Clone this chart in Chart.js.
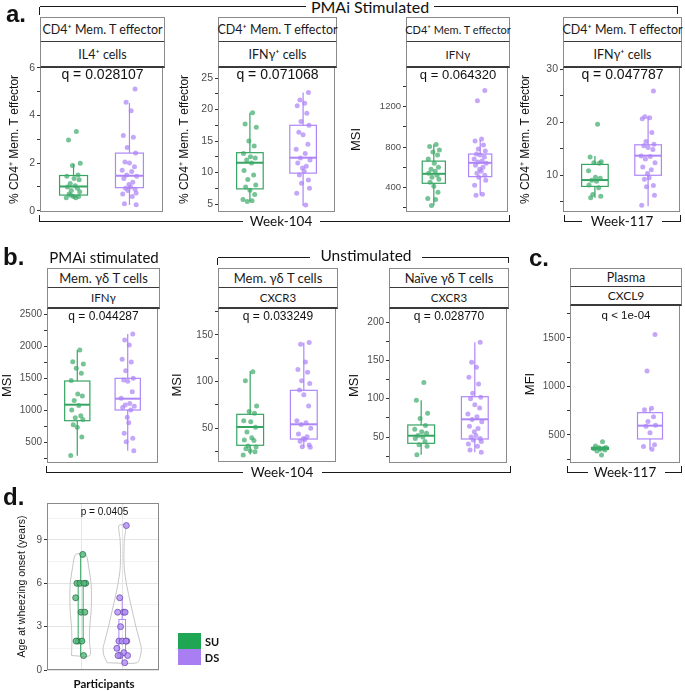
<!DOCTYPE html>
<html>
<head>
<meta charset="utf-8">
<script src="https://cdn.jsdelivr.net/npm/chart.js@4.4.1/dist/chart.umd.min.js"></script>
<style>
    body { margin: 0; width: 685px; height: 691px; position: relative; overflow: hidden; background: #fff; font-family: Lato, 'Liberation Sans', sans-serif; color: #111; }
    canvas { position: absolute; }
    .txt { position: absolute; transform: translate(-50%, -50%); white-space: nowrap; line-height: 1; }
    .strip { position: absolute; box-sizing: border-box; background: #fff; border-left: 1px solid #8a8a8a; border-right: 1px solid #8a8a8a; border-bottom: 2px solid #3a3a3a; display: flex; align-items: center; justify-content: center; white-space: nowrap; color: #1a1a1a; }
    .hl { position: absolute; height: 0; border-top: 1.6px solid #1a1a1a; }
    .vl { position: absolute; width: 0; border-left: 1.6px solid #1a1a1a; }
    .letter { position: absolute; font: bold 24px 'Liberation Sans', sans-serif; line-height: 24px; }
    .key { position: absolute; width: 23px; height: 16px; }
</style>
</head>
<body>
<script>
// values, SU = green, DS = purple
// box stats are [lower whisker, q1, median, q3, upper whisker]
const A1_SU = [3.33, 2.97, 1.99, 1.9, 1.5, 1.45, 1.35, 1.3, 1.15, 1.05, 1.0, 0.95, 0.85, 0.8, 0.7, 0.6, 0.6, 0.55, 0.55, 0.65];
const A1_DS = [5.11, 4.55, 4.2, 3.16, 3.08, 2.65, 2.42, 2.05, 2.0, 1.85, 1.7, 1.65, 1.5, 1.45, 1.35, 1.2, 1.1, 1.0, 0.95, 0.9, 0.85, 0.75, 0.7, 0.6, 0.3, 0.25];
const A1_BOX_SU = [0.55, 0.66, 1.02, 1.48, 1.97];
const A1_BOX_DS = [0.24, 0.97, 1.47, 2.42, 4.52];
const A1_TICKS = [0, 1, 2, 3, 4, 5, 6];
const A1_LABELS = [0, 2, 4, 6];

const A2_SU = [19.5, 17.7, 17.2, 15.0, 14.2, 13.0, 12.5, 12.3, 12.0, 11.5, 10.3, 9.6, 8.9, 8.0, 7.7, 7.2, 6.5, 5.7, 5.5, 5.4];
const A2_DS = [22.7, 21.5, 21.0, 20.6, 19.4, 18.1, 17.5, 16.4, 16.0, 14.5, 13.7, 13.0, 12.3, 12.0, 11.5, 11.0, 10.7, 10.2, 9.6, 8.8, 8.3, 7.5, 6.7, 4.85];
const A2_BOX_SU = [5.4, 7.4, 11.55, 13.15, 19.5];
const A2_BOX_DS = [4.7, 9.9, 12.35, 17.5, 22.7];
const A2_TICKS = [5, 7.5, 10, 12.5, 15, 17.5, 20, 22.5, 25];
const A2_LABELS = [5, 10, 15, 20, 25];

const A3_SU = [826, 806, 770, 750, 720, 680, 640, 600, 580, 560, 540, 520, 500, 480, 450, 410, 350, 290, 280, 220];
const A3_DS = [1360, 1260, 880, 860, 820, 780, 760, 730, 720, 700, 680, 660, 650, 640, 620, 600, 580, 560, 540, 520, 500, 470, 420, 330, 320];
const A3_BOX_SU = [220, 440, 534, 660, 826];
const A3_BOX_DS = [320, 506, 643, 730, 870];
const A3_TICKS = [200, 400, 600, 800, 1000, 1200, 1400];
const A3_LABELS = [400, 800, 1200];

const A4_SU = [19.6, 13.4, 12.5, 12.3, 12.2, 10.8, 9.6, 9.4, 9.0, 8.8, 8.1, 7.6, 6.3, 6.0, 5.7];
const A4_DS = [25.85, 21.0, 20.8, 20.6, 18.0, 16.3, 15.8, 15.5, 15.2, 14.8, 13.6, 13.5, 13.0, 12.3, 11.5, 11.0, 10.3, 9.5, 9.2, 8.0, 7.8, 6.2, 4.3];
const A4_BOX_SU = [5.7, 7.85, 9.05, 12.0, 13.6];
const A4_BOX_DS = [4.1, 9.95, 13.65, 15.7, 21.0];
const A4_TICKS = [5, 10, 15, 20, 25, 30];
const A4_LABELS = [10, 20, 30];

const B1_SU = [1937, 1755, 1720, 1651, 1573, 1460, 1250, 1220, 1150, 1070, 1000, 910, 880, 850, 770, 730, 580, 290];
const B1_DS = [2187, 2094, 2016, 1792, 1750, 1614, 1495, 1470, 1450, 1286, 1182, 1100, 1080, 1060, 1040, 1000, 886, 800, 636, 560, 505, 364];
const B1_BOX_SU = [286, 833, 1083, 1453, 1937];
const B1_BOX_DS = [364, 1000, 1177, 1495, 2187];
const B1_TICKS = [250, 500, 750, 1000, 1250, 1500, 1750, 2000, 2250, 2500];
const B1_LABELS = [500, 1000, 1500, 2000, 2500];

const B2_SU = [110.6, 101, 74, 68, 66, 58, 57, 51, 46, 40, 37.5, 37, 31, 30, 28, 26, 25, 21.5];
const B2_DS = [142, 140, 121, 113, 110, 101, 98, 91, 86, 74, 58, 56, 54, 50, 44, 41, 39, 38, 36, 32, 30.3, 29.7];
const B2_BOX_SU = [22, 31.8, 51.4, 65, 111];
const B2_BOX_DS = [29.7, 38.5, 54.3, 90.7, 142];
const B2_TICKS = [25, 50, 75, 100, 125, 150, 175];
const B2_LABELS = [50, 100, 150];

const B3_SU = [121, 98, 81, 74, 65, 60, 57, 55, 52, 50, 48, 44, 40, 38, 27];
const B3_DS = [173.6, 147.5, 141, 128, 119, 107, 102, 100, 92, 88, 80, 76.5, 73, 70, 64, 61, 57, 52, 50, 48, 46, 44, 41, 38, 33, 30];
const B3_BOX_SU = [27, 41.8, 51.7, 65.7, 98];
const B3_BOX_DS = [30, 47.4, 73.1, 102.6, 173.6];
const B3_TICKS = [25, 50, 75, 100, 125, 150, 175, 200];
const B3_LABELS = [50, 100, 150, 200];

const C_SU = [431, 385, 372, 368, 363, 358, 352, 345, 335, 294];
const C_DS = [1537, 1159, 775, 760, 689, 640, 600, 590, 523, 400, 380, 352];
const C_BOX_SU = [335, 352, 363, 372, 385];
const C_BOX_DS = [352, 459, 596, 730, 775];
const C_TICKS = [250, 500, 750, 1000, 1250, 1500, 1750];
const C_LABELS = [500, 1000, 1500];

const D_SU = [8, 6, 6, 6, 6, 5, 4, 4, 2, 2, 2, 1];
const D_DS = [10, 5, 4, 4, 4, 3, 2, 2, 2, 2, 1.5, 1.2, 1, 1, 1, 0.5];
const D_BOX_SU = [1, 2, 4, 6, 8];
const D_BOX_DS = [0.5, 1, 2, 3.5, 5];
const D_VIOLIN_Y_SU = [1, 2, 3, 4, 5, 6, 7, 8];
const D_VIOLIN_W_SU = [0.22, 0.21, 0.22, 0.25, 0.26, 0.25, 0.2, 0.12];
const D_VIOLIN_Y_DS = [0.5, 1, 1.5, 2, 3, 4, 5, 6, 7, 8, 9, 10];
const D_VIOLIN_W_DS = [0.36, 0.44, 0.46, 0.42, 0.33, 0.25, 0.17, 0.1, 0.05, 0.04, 0.05, 0.08];
const D_TICKS = [0, 1.5, 3, 4.5, 6, 7.5, 9, 10.5];
const D_LABELS = [0, 3, 6, 9];

// horizontal jitter offsets as seen in the dot clouds
const JITTER = [0.05, -0.09, 0.12, -0.02, 0.08, -0.12, 0.01, 0.1, -0.06, 0.03, -0.11, 0.07, -0.04, 0.11, -0.08, 0.0, 0.09, -0.13, 0.04, -0.05, 0.13, -0.1, 0.06, -0.01, 0.02, -0.07, 0.1, -0.03, 0.12, -0.12];

const SU_LINE = '#36a562';
const SU_POINT = 'rgba(60, 170, 105, 0.7)';
const DS_LINE = '#ae86f7';
const DS_POINT = 'rgba(172, 130, 247, 0.7)';
const FRAME = '#8a8a8a';

const CD4_TITLE = '% CD4⁺ Mem. T effector';

const PANELS = [
    { frameL: 40, frameR: 165, plotT: 67, plotB: 212, titleX: 14, title: CD4_TITLE, titleSize: 12, tickSize: 10.5,
      yMin: -0.05, yMax: 6.03, ticks: A1_TICKS, labels: A1_LABELS, su: A1_SU, ds: A1_DS, boxSu: A1_BOX_SU, boxDs: A1_BOX_DS,
      strips: [[17, 42, 'CD4⁺ Mem. T effector', 12.5], [42, 67, 'IL4⁺ cells', 12.5]], q: 'q = 0.028107', qY: 74, qSize: 14 },
    { frameL: 218, frameR: 337, plotT: 67, plotB: 212, titleX: 184, title: CD4_TITLE, titleSize: 12, tickSize: 10.5,
      yMin: 3.73, yMax: 26.75, ticks: A2_TICKS, labels: A2_LABELS, su: A2_SU, ds: A2_DS, boxSu: A2_BOX_SU, boxDs: A2_BOX_DS,
      strips: [[17, 42, 'CD4⁺ Mem. T effector', 12.5], [42, 67, 'IFNγ⁺ cells', 12.5]], q: 'q = 0.071068', qY: 74, qSize: 14 },
    { frameL: 406, frameR: 510, plotT: 67, plotB: 212, titleX: 357, title: 'MSI', titleSize: 13, tickSize: 9.5,
      yMin: 155, yMax: 1594, ticks: A3_TICKS, labels: A3_LABELS, su: A3_SU, ds: A3_DS, boxSu: A3_BOX_SU, boxDs: A3_BOX_DS,
      strips: [[17, 42, 'CD4⁺ Mem. T effector', 11], [42, 67, 'IFNγ', 11.5]], q: 'q = 0.064320', qY: 74, qSize: 13 },
    { frameL: 563, frameR: 682, plotT: 67, plotB: 212, titleX: 525, title: CD4_TITLE, titleSize: 12, tickSize: 10.5,
      yMin: 3.02, yMax: 30.38, ticks: A4_TICKS, labels: A4_LABELS, su: A4_SU, ds: A4_DS, boxSu: A4_BOX_SU, boxDs: A4_BOX_DS,
      strips: [[17, 42, 'CD4⁺ Mem. T effector', 12.5], [42, 67, 'IFNγ⁺ cells', 12.5]], q: 'q = 0.047787', qY: 74, qSize: 14 },
    { frameL: 47, frameR: 160, plotT: 308, plotB: 463, titleX: 8, title: 'MSI', titleSize: 13, tickSize: 10,
      yMin: 172, yMax: 2594, ticks: B1_TICKS, labels: B1_LABELS, su: B1_SU, ds: B1_DS, boxSu: B1_BOX_SU, boxDs: B1_BOX_DS,
      strips: [[268, 288, 'Mem. γδ T cells', 13], [288, 308, 'IFNγ', 11.5]], q: 'q = 0.044287', qY: 316, qSize: 12 },
    { frameL: 218, frameR: 338, plotT: 308, plotB: 462, titleX: 178, title: 'MSI', titleSize: 13, tickSize: 10,
      yMin: 13.9, yMax: 178.9, ticks: B2_TICKS, labels: B2_LABELS, su: B2_SU, ds: B2_DS, boxSu: B2_BOX_SU, boxDs: B2_BOX_DS,
      strips: [[268, 288, 'Mem. γδ T cells', 13], [288, 308, 'CXCR3', 11.5]], q: 'q = 0.033249', qY: 316, qSize: 12 },
    { frameL: 389, frameR: 509, plotT: 308, plotB: 463, titleX: 355, title: 'MSI', titleSize: 13, tickSize: 10,
      yMin: 16.1, yMax: 218.3, ticks: B3_TICKS, labels: B3_LABELS, su: B3_SU, ds: B3_DS, boxSu: B3_BOX_SU, boxDs: B3_BOX_DS,
      strips: [[268, 288, 'Naïve γδ T cells', 13], [288, 308, 'CXCR3', 11.5]], q: 'q = 0.028770', qY: 316, qSize: 12 },
    { frameL: 570, frameR: 682, plotT: 305, plotB: 463, titleX: 531, title: 'MFI', titleSize: 13, tickSize: 10,
      yMin: 211, yMax: 1840, ticks: C_TICKS, labels: C_LABELS, su: C_SU, ds: C_DS, boxSu: C_BOX_SU, boxDs: C_BOX_DS, halfSu: 0.17,
      strips: [[268, 287, 'Plasma', 12.5], [287, 305, 'CXCL9', 12]], q: 'q < 1e-04', qY: 316, qSize: 11.5 },
    { frameL: 47, frameR: 162, plotT: 503, plotB: 670, titleX: 22, title: 'Age at wheezing onset (years)', titleSize: 10.5, tickSize: 10,
      yMin: 0, yMax: 11.56, xMin: 0.19, xMax: 2.89, ticks: D_TICKS, labels: D_LABELS, su: D_SU, ds: D_DS, boxSu: D_BOX_SU, boxDs: D_BOX_DS,
      halfSu: 0.06, halfDs: 0.08, violin: true, strips: [], q: 'p = 0.0405', qY: 512, qSize: 10 }
];

function addEl(cls, style, text) {
    const el = document.createElement('div');
    el.className = cls;
    Object.assign(el.style, style);
    if (text !== undefined) {
        el.textContent = text;
    }
    document.body.appendChild(el);
    return el;
}

function addText(text, x, y, size, extra) {
    return addEl('txt', Object.assign({ left: `${x}px`, top: `${y}px`, fontSize: `${size}px` }, extra || {}), text);
}

function hLine(x1, x2, y) {
    addEl('hl', { left: `${x1}px`, top: `${y - 0.8}px`, width: `${x2 - x1}px` });
}

function vLine(x, y1, y2) {
    addEl('vl', { left: `${x - 0.8}px`, top: `${y1}px`, height: `${y2 - y1}px` });
}

function jitterPoints(values, center, shift) {
    return values.map((v, i) => ({ x: center + JITTER[(i + shift) % JITTER.length], y: v }));
}

function violinOutline(levels, widths, center) {
    const left = levels.map((y, i) => ({ x: center - widths[i], y }));
    const right = levels.map((y, i) => ({ x: center + widths[i], y })).reverse();
    return [...left, ...right, left[0]];
}

function drawBox(chart, center, stats, half, color, lineWidth, medianWidth) {
    const { ctx, scales } = chart;
    const xs = scales.x;
    const ys = scales.y;
    const [lo, q1, med, q3, hi] = stats.map(v => ys.getPixelForValue(v));
    const xl = xs.getPixelForValue(center - half);
    const xr = xs.getPixelForValue(center + half);
    const xc = xs.getPixelForValue(center);
    ctx.save();
    ctx.strokeStyle = color;
    ctx.lineWidth = lineWidth;
    ctx.beginPath();
    ctx.moveTo(xc, hi);
    ctx.lineTo(xc, q3);
    ctx.moveTo(xc, q1);
    ctx.lineTo(xc, lo);
    ctx.stroke();
    ctx.strokeRect(xl, q3, xr - xl, q1 - q3);
    ctx.lineWidth = medianWidth;
    ctx.beginPath();
    ctx.moveTo(xl, med);
    ctx.lineTo(xr, med);
    ctx.stroke();
    ctx.restore();
}

function panelPlugin(p) {
    return {
        id: 'panel',
        beforeDatasetsDraw(chart) {
            const { ctx, chartArea, scales } = chart;
            if (p.violin) {
                ctx.save();
                ctx.strokeStyle = '#e6e6e6';
                ctx.lineWidth = 1;
                [1, 2].forEach(v => {
                    const x = Math.round(scales.x.getPixelForValue(v)) + 0.5;
                    ctx.beginPath();
                    ctx.moveTo(x, chartArea.top);
                    ctx.lineTo(x, chartArea.bottom);
                    ctx.stroke();
                });
                ctx.restore();
            }
            const thin = p.violin ? 1 : 1.2;
            const med = p.violin ? 1.3 : 2;
            drawBox(chart, 1, p.boxSu, p.halfSu || 0.25, SU_LINE, thin, med);
            drawBox(chart, 2, p.boxDs, p.halfDs || 0.25, DS_LINE, thin, med);
        },
        afterDraw(chart) {
            const { ctx, chartArea } = chart;
            ctx.save();
            ctx.strokeStyle = FRAME;
            ctx.lineWidth = 1;
            ctx.strokeRect(Math.round(chartArea.left) + 0.5, Math.round(chartArea.top) + 0.5,
                Math.round(chartArea.width) - 1, Math.round(chartArea.height) - 1);
            ctx.restore();
        }
    };
}

function renderPanel(p) {
    const left = Math.round(p.titleX - p.titleSize * 0.6);
    const axisW = p.frameL - left;
    const width = axisW + (p.frameR - p.frameL) + 2;
    const height = p.plotB - p.plotT + 20;

    const canvas = document.createElement('canvas');
    canvas.width = width;
    canvas.height = height;
    Object.assign(canvas.style, { left: `${left}px`, top: `${p.plotT - 10}px`, width: `${width}px`, height: `${height}px` });
    document.body.appendChild(canvas);

    const isMajor = value => p.labels.includes(value);

    const datasets = [
        {
            data: jitterPoints(p.su, 1, 0),
            backgroundColor: p.violin ? 'rgba(80, 185, 120, 0.8)' : SU_POINT,
            borderColor: '#2c7048',
            borderWidth: p.violin ? 0.8 : 0,
            pointRadius: p.violin ? 3 : 2.5
        },
        {
            data: jitterPoints(p.ds, 2, 7),
            backgroundColor: p.violin ? 'rgba(178, 140, 246, 0.8)' : DS_POINT,
            borderColor: '#6f50b0',
            borderWidth: p.violin ? 0.8 : 0,
            pointRadius: p.violin ? 3 : 2.5
        }
    ];

    if (p.violin) {
        datasets.push(
            { data: violinOutline(D_VIOLIN_Y_SU, D_VIOLIN_W_SU, 1), showLine: true, pointRadius: 0, borderColor: '#c4c4c4', borderWidth: 1, tension: 0.25 },
            { data: violinOutline(D_VIOLIN_Y_DS, D_VIOLIN_W_DS, 2), showLine: true, pointRadius: 0, borderColor: '#c4c4c4', borderWidth: 1, tension: 0.25 }
        );
    }

    return new Chart(canvas, {
        type: 'scatter',
        data: { datasets },
        options: {
            responsive: false,
            animation: false,
            layout: { padding: { left: 0, right: 2, top: 10, bottom: 10 } },
            plugins: {
                legend: { display: false },
                tooltip: { enabled: false }
            },
            scales: {
                x: { type: 'linear', display: false, min: p.xMin || 0.4, max: p.xMax || 2.6 },
                y: {
                    type: 'linear',
                    min: p.yMin,
                    max: p.yMax,
                    afterBuildTicks(scale) {
                        scale.ticks = p.ticks.map(value => ({ value }));
                    },
                    afterFit(scale) {
                        scale.width = axisW;
                    },
                    ticks: {
                        autoSkip: false,
                        padding: 2,
                        color: '#4d4d4d',
                        font: { family: 'Liberation Sans', size: p.tickSize },
                        callback(value) {
                            return isMajor(value) ? String(value) : '';
                        }
                    },
                    grid: {
                        drawOnChartArea: !!p.violin,
                        drawTicks: true,
                        tickLength: 3,
                        color(context) {
                            return isMajor(context.tick.value) ? '#e4e4e4' : '#f2f2f2';
                        },
                        tickColor(context) {
                            return (!p.violin || isMajor(context.tick.value)) ? '#333333' : 'rgba(0,0,0,0)';
                        }
                    },
                    border: { display: false },
                    title: {
                        display: true,
                        text: p.title,
                        color: '#111111',
                        padding: { top: 0, bottom: 0 },
                        font: { family: 'Liberation Sans', size: p.titleSize }
                    }
                }
            }
        },
        plugins: [panelPlugin(p)]
    });
}

function renderStrips(p) {
    p.strips.forEach(([top, bottom, text, size], index) => {
        const style = {
            left: `${p.frameL}px`,
            top: `${top}px`,
            width: `${p.frameR - p.frameL}px`,
            height: `${bottom - top + 1}px`,
            fontSize: `${size}px`
        };
        if (index === 0) {
            style.borderTop = `1px solid ${FRAME}`;
        }
        addEl('strip', style, text);
    });
    addText(p.q, (p.frameL + p.frameR) / 2, p.qY, p.qSize, { fontFamily: 'Liberation Sans' });
}

PANELS.forEach(p => {
    renderPanel(p);
    renderStrips(p);
});

// panel letters
addEl('letter', { left: '6px', top: '2px' }, 'a.');
addEl('letter', { left: '3px', top: '245px' }, 'b.');
addEl('letter', { left: '529px', top: '246px' }, 'c.');
addEl('letter', { left: '3px', top: '485px' }, 'd.');

// row a brackets
addText('PMAi Stimulated', 370, 7, 16);
hLine(40, 306, 7); hLine(434, 678, 7);
vLine(40, 7, 15); vLine(678, 7, 14);
addText('Week-104', 281, 222, 13.5);
hLine(40, 243, 222); hLine(320, 510, 222);
vLine(40, 215, 222); vLine(510, 215, 222);
addText('Week-117', 622, 222, 13.5);
hLine(565, 582, 222); hLine(662, 681, 222);
vLine(565, 215, 222); vLine(681, 215, 222);

// row b/c brackets
addText('PMAi stimulated', 104, 257, 15);
addText('Unstimulated', 366, 256, 15.5);
hLine(218, 310, 258); hLine(422, 509, 258);
vLine(218, 258, 265); vLine(509, 258, 263);
addText('Week-104', 282, 473, 13.5);
hLine(47, 243, 473); hLine(322, 511, 473);
vLine(47, 466, 473); vLine(511, 466, 473);
addText('Week-117', 625, 473, 13.5);
hLine(568, 588, 473); hLine(665, 682, 473);
vLine(568, 466, 473); vLine(682, 466, 473);

// panel d extras
addText('Participants', 104, 684, 11.5, { fontWeight: 'bold' });
addEl('key', { left: '178px', top: '633px', background: '#1fa652' });
addEl('key', { left: '178px', top: '649px', background: '#a87ef2' });
addText('SU', 212, 641, 11, { fontWeight: 'bold' });
addText('DS', 212, 657, 11, { fontWeight: 'bold' });
</script>
</body>
</html>
